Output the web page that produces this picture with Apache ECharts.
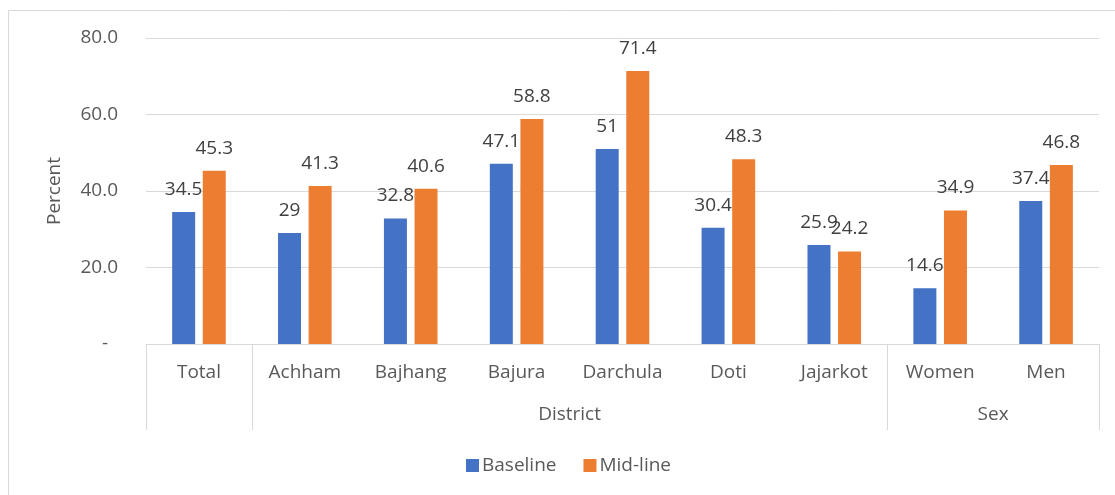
<!DOCTYPE html>
<html>
<head>
<meta charset="utf-8">
<script src="https://cdn.jsdelivr.net/npm/echarts@6/dist/echarts.min.js"></script>
<style>
  html, body { margin: 0; padding: 0; background: #ffffff; }
  #chart { width: 1115px; height: 495px; }
</style>
</head>
<body>
<div id="chart"></div>
<script>
// Categories along the bottom axis
const categories = ['Total', 'Achham', 'Bajhang', 'Bajura', 'Darchula', 'Doti', 'Jajarkot', 'Women', 'Men'];
// Grouping row below the category labels
const groupNames = ['', 'District', 'Sex'];
const groupSizes = [1, 6, 2];
// Series values (percent)
const baseline = [34.5, 29, 32.8, 47.1, 51, 30.4, 25.9, 14.6, 37.4];
const midline = [45.3, 41.3, 40.6, 58.8, 71.4, 48.3, 24.2, 34.9, 46.8];
const seriesNames = ['Baseline', 'Mid-line'];
// Value axis ticks
const yTicks = [0, 20, 40, 60, 80];

// Group boundaries and centres in category units
const boundaries = [0];
const centres = [];
groupSizes.forEach(function (n) {
  const start = boundaries[boundaries.length - 1];
  boundaries.push(start + n);
  centres.push(start + n / 2);
});
const groupLabelAt = {};
centres.forEach(function (c, i) { groupLabelAt[c] = groupNames[i]; });

const FONT = '"Open Sans", "Noto Sans", sans-serif';
const FS = 19;
const AXIS_COLOR = '#595959';
const LINE_COLOR = '#d9d9d9';

const chart = echarts.init(document.getElementById('chart'), null, { renderer: 'canvas' });

chart.setOption({
  animation: false,
  backgroundColor: '#ffffff',
  textStyle: { fontFamily: FONT },
  graphic: [{
    type: 'rect',
    shape: { x: 8.5, y: 10.5, width: 1130, height: 500 },
    style: { fill: 'none', stroke: LINE_COLOR, lineWidth: 1 },
    silent: true
  }],
  grid: { left: 146, right: 16, top: 38, bottom: 151 },
  legend: {
    data: seriesNames,
    left: 461,
    top: 451,
    itemWidth: 13,
    itemHeight: 13,
    itemGap: 27,
    icon: 'rect',
    textStyle: { fontFamily: FONT, fontSize: FS, color: AXIS_COLOR, padding: [0, 0, 0, -2] }
  },
  xAxis: [{
    type: 'category',
    data: categories,
    position: 'bottom',
    axisLine: { show: true, lineStyle: { color: LINE_COLOR, width: 1 } },
    axisTick: { show: false },
    axisLabel: { fontFamily: FONT, fontSize: FS, color: AXIS_COLOR, margin: 19, interval: 0 },
    splitLine: { show: false }
  }, {
    type: 'value',
    position: 'bottom',
    min: 0,
    max: categories.length,
    axisLine: { show: false },
    axisTick: {
      show: true,
      customValues: boundaries,
      length: 86,
      lineStyle: { color: LINE_COLOR, width: 1 }
    },
    axisLabel: {
      show: true,
      customValues: centres.filter(function (c, i) { return groupNames[i] !== ''; }),
      formatter: function (v) { return groupLabelAt[v] || ''; },
      fontFamily: FONT, fontSize: FS, color: AXIS_COLOR, margin: 61
    },
    splitLine: { show: false }
  }],
  yAxis: {
    type: 'value',
    min: yTicks[0],
    max: yTicks[yTicks.length - 1],
    interval: yTicks[1] - yTicks[0],
    name: 'Percent',
    nameLocation: 'middle',
    nameGap: 82,
    nameTextStyle: { fontFamily: FONT, fontSize: FS, color: AXIS_COLOR },
    axisLine: { show: false },
    axisTick: { show: false },
    axisLabel: {
      fontFamily: FONT, fontSize: FS, color: AXIS_COLOR, margin: 28,
      formatter: function (v) { return v === 0 ? '-  ' : v.toFixed(1); }
    },
    splitLine: { show: true, lineStyle: { color: LINE_COLOR, width: 1 } }
  },
  series: [{
    name: seriesNames[0],
    type: 'bar',
    data: baseline,
    xAxisIndex: 0,
    barWidth: 23,
    barGap: '33%',
    itemStyle: { color: '#4472C4' },
    label: { show: true, position: 'top', distance: 13, fontFamily: FONT, fontSize: FS, color: '#404040' }
  }, {
    name: seriesNames[1],
    type: 'bar',
    data: midline,
    xAxisIndex: 0,
    barWidth: 23,
    barGap: '33%',
    itemStyle: { color: '#ED7D31' },
    label: { show: true, position: 'top', distance: 13, fontFamily: FONT, fontSize: FS, color: '#404040' }
  }]
});
</script>
</body>
</html>
